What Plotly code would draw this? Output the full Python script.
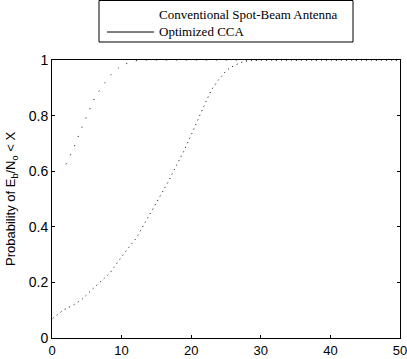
import plotly.graph_objects as go

# ---- data ----
cons_x = [0.1, 1.6, 3.1, 4.3, 5.7, 7.1, 8.3, 9.5, 10.2, 11.1, 12.1, 13.1, 14.0, 14.9,
          16.0, 16.7, 17.9, 18.9, 20.1, 21.0, 22.0, 22.9, 23.9, 25.1, 26.3, 27.5, 28.9, 30.0, 50.0]
cons_y = [0.071, 0.100, 0.119, 0.139, 0.173, 0.206, 0.233, 0.275, 0.299, 0.328, 0.359, 0.403,
          0.442, 0.482, 0.532, 0.562, 0.622, 0.670, 0.736, 0.790, 0.844, 0.892, 0.928, 0.964,
          0.982, 0.994, 1.0, 1.0, 1.0]

opt_x = [2.0, 3.1, 4.0, 4.9, 5.2, 6.0, 6.3, 7.5, 8.5, 9.5, 10.0, 10.6, 11.7, 13.0, 50.0]
opt_y = [0.625, 0.682, 0.740, 0.796, 0.810, 0.856, 0.872, 0.915, 0.948, 0.970, 0.982,
         0.986, 0.996, 1.0, 1.0]

legend_labels = ["Conventional Spot-Beam Antenna", "Optimized CCA"]
x_ticks = [0, 10, 20, 30, 40, 50]
y_ticks = [0, 0.2, 0.4, 0.6, 0.8, 1]
y_title = "Probability of E<sub>b</sub>/N<sub>o</sub> &lt; X"

W, H = 407, 359
L, R, T, B = 52, 7, 60, 21
PW, PH = W - L - R, H - T - B


def px(xp):
    return (xp - L) / PW


def py(yp):
    return (H - B - yp) / PH


fig = go.Figure()
fig.add_trace(go.Scatter(x=cons_x, y=cons_y, mode="lines", name=legend_labels[0],
                         line=dict(color="black", width=1, dash="1px,4px"), showlegend=False))
fig.add_trace(go.Scatter(x=opt_x, y=opt_y, mode="lines", name=legend_labels[1],
                         line=dict(color="black", width=1, dash="1px,9px"), showlegend=False))

serif = "Liberation Serif, Times New Roman, serif"
sans = "Liberation Sans, Arial, sans-serif"

shapes = [
    dict(type="rect", xref="paper", yref="paper", x0=px(99), x1=px(353), y0=py(42), y1=py(0.5),
         line=dict(color="black", width=1), fillcolor="white", layer="above"),
    dict(type="line", xref="paper", yref="paper", x0=px(107), x1=px(154), y0=py(32), y1=py(32),
         line=dict(color="black", width=1)),
]
annotations = [
    dict(text=legend_labels[0], xref="paper", yref="paper", x=px(157), y=py(15),
         xanchor="left", yanchor="middle", showarrow=False, font=dict(family=serif, size=13, color="black")),
    dict(text=legend_labels[1], xref="paper", yref="paper", x=px(157), y=py(32),
         xanchor="left", yanchor="middle", showarrow=False, font=dict(family=serif, size=13, color="black")),
    dict(text=y_title, xref="paper", yref="paper", x=px(11), y=0.5, textangle=-90,
         xanchor="center", yanchor="middle", showarrow=False, font=dict(family=sans, size=13, color="black")),
]

fig.update_layout(
    width=W, height=H,
    margin=dict(l=L, r=R, t=T, b=B),
    paper_bgcolor="white", plot_bgcolor="white",
    showlegend=False,
    shapes=shapes, annotations=annotations,
    font=dict(family=sans, size=13, color="black"),
)
fig.update_xaxes(range=[0, 50], tickvals=x_ticks, showgrid=False, zeroline=False,
                 showline=True, linecolor="black", linewidth=1, mirror=True,
                 ticks="inside", ticklen=3, tickcolor="black", tickfont=dict(size=13),
                 ticklabeloverflow="allow", automargin=False)
fig.update_yaxes(range=[0, 1], tickvals=y_ticks, ticktext=[str(v) for v in y_ticks],
                 showgrid=False, zeroline=False,
                 showline=True, linecolor="black", linewidth=1, mirror="ticks",
                 ticks="inside", ticklen=3, tickcolor="black", tickfont=dict(size=14),
                 automargin=False)

fig.write_html("out.html", config={"responsive": False, "displayModeBar": False},
               post_script="document.body.style.margin='0';document.body.style.overflow='hidden';")
